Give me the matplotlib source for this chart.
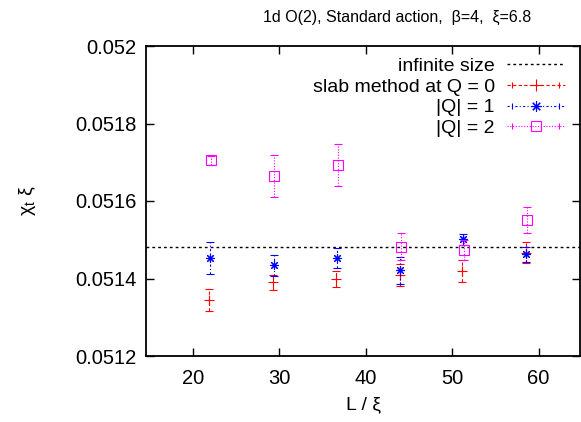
import matplotlib
matplotlib.use('Agg')
import matplotlib.pyplot as plt
from matplotlib.lines import Line2D
from matplotlib.legend_handler import HandlerLine2D, HandlerTuple

plt.rcParams['font.family'] = ['Liberation Sans', 'DejaVu Sans']

INFINITE = 0.051482

L_Q0 = [21.9, 29.3, 36.6, 44.0, 51.2, 58.5]
CHI_Q0 = [0.051344, 0.051390, 0.051399, 0.051410, 0.051419, 0.051466]
ERR_Q0 = [0.0000284, 0.0000194, 0.0000200, 0.0000284, 0.0000276, 0.0000271]

L_Q1 = [22.0, 29.4, 36.7, 44.0, 51.3, 58.6]
CHI_Q1 = [0.051453, 0.051434, 0.051453, 0.051421, 0.051501, 0.051462]
ERR_Q1 = [0.0000413, 0.0000279, 0.0000266, 0.0000343, 0.0000137, 0.0000194]

L_Q2 = [22.1, 29.4, 36.8, 44.1, 51.4, 58.7]
CHI_Q2 = [0.051705, 0.051664, 0.051692, 0.051482, 0.051473, 0.051550]
ERR_Q2 = [0.0000116, 0.0000542, 0.0000542, 0.0000343, 0.0000258, 0.0000335]

YTICKS = [0.0512, 0.0514, 0.0516, 0.0518, 0.052]
YTICKLABELS = ['0.0512', '0.0514', '0.0516', '0.0518', '0.052']
XTICKS = [20, 30, 40, 50, 60]

FS = 14
TICK_FS = 14.5
TITLE_FS = 11.5


def draw_series(ax, x, y, err, color, marker, ms, dashes):
    eb = ax.errorbar(x, y, yerr=err, fmt='none', ecolor=color, elinewidth=0.8,
                     capsize=2.6, capthick=0.8)
    for col in eb[2]:
        col.set_linestyle((0, dashes))
    ax.plot(x, y, linestyle='none', marker=marker, color=color, ms=ms,
            mfc='none', mew=0.8)
    line = Line2D([], [], color=color, lw=0.8, dashes=dashes, marker=marker,
                  ms=ms + 1, mfc='none', mew=0.8)
    caps = Line2D([], [], color=color, lw=0, marker='|', ms=5, mew=0.8)
    return line, caps


def main():
    fig = plt.figure(figsize=(5.81, 4.22), dpi=100)
    ax = fig.add_axes([146 / 581, 1 - 356 / 422, 434 / 581, 310 / 422])

    ax.axhline(INFINITE, color='black', lw=1.0, dashes=(2, 2.2))
    h0 = draw_series(ax, L_Q0, CHI_Q0, ERR_Q0, '#ff0000', '+', 7, (3, 2))
    h1 = draw_series(ax, L_Q1, CHI_Q1, ERR_Q1, '#0000ff', (8, 2, 0), 6.5, (2, 2, 1, 2))
    h2 = draw_series(ax, L_Q2, CHI_Q2, ERR_Q2, '#ff00ff', 's', 6.5, (1, 1.5))

    ax.set_xlim(14.6, 64.8)
    ax.set_ylim(0.0512, 0.052)
    ax.set_xticks(XTICKS)
    ax.set_yticks(YTICKS)
    ax.set_yticklabels(YTICKLABELS)
    ax.tick_params(direction='in', length=6, width=1.0, top=True, right=True,
                   labelsize=TICK_FS)
    ax.tick_params(axis='x', pad=9)
    ax.tick_params(axis='y', pad=7)
    for sp in ax.spines.values():
        sp.set_linewidth(1.3)

    ax.set_xlabel('L / ξ', fontsize=FS, labelpad=6)
    ax.set_ylabel('χ$_\\mathregular{t}$ ξ', fontsize=FS)
    ax.yaxis.set_label_coords(-0.249, 0.5)
    fig.text(0.683, 1 - 17 / 422, '1d O(2), Standard action,  β=4,  ξ=6.8',
             ha='center', va='center', fontsize=TITLE_FS)

    inf_handle = Line2D([], [], color='black', lw=1.0, dashes=(2, 2.2))
    hmap = {}
    for line, caps in (h0, h1, h2):
        hmap[caps] = HandlerLine2D(numpoints=2)
        hmap[line] = HandlerLine2D(numpoints=1)
    tup = HandlerTuple(ndivide=1, pad=0)
    handles = [inf_handle, h0, h1, h2]
    labels = ['infinite size', 'slab method at Q = 0', '|Q| = 1', '|Q| = 2']
    for h in (h0, h1, h2):
        hmap[h] = tup
    ax.legend(handles, labels, handler_map=hmap, loc='upper right',
              bbox_to_anchor=(0.992, 1.0), frameon=False, markerfirst=False,
              fontsize=FS, handlelength=3.0, handletextpad=0.6,
              labelspacing=0.15, borderaxespad=0.2)

    fig.savefig('out.png', dpi=100)


if (__name__ == '__main__'):
    main()
